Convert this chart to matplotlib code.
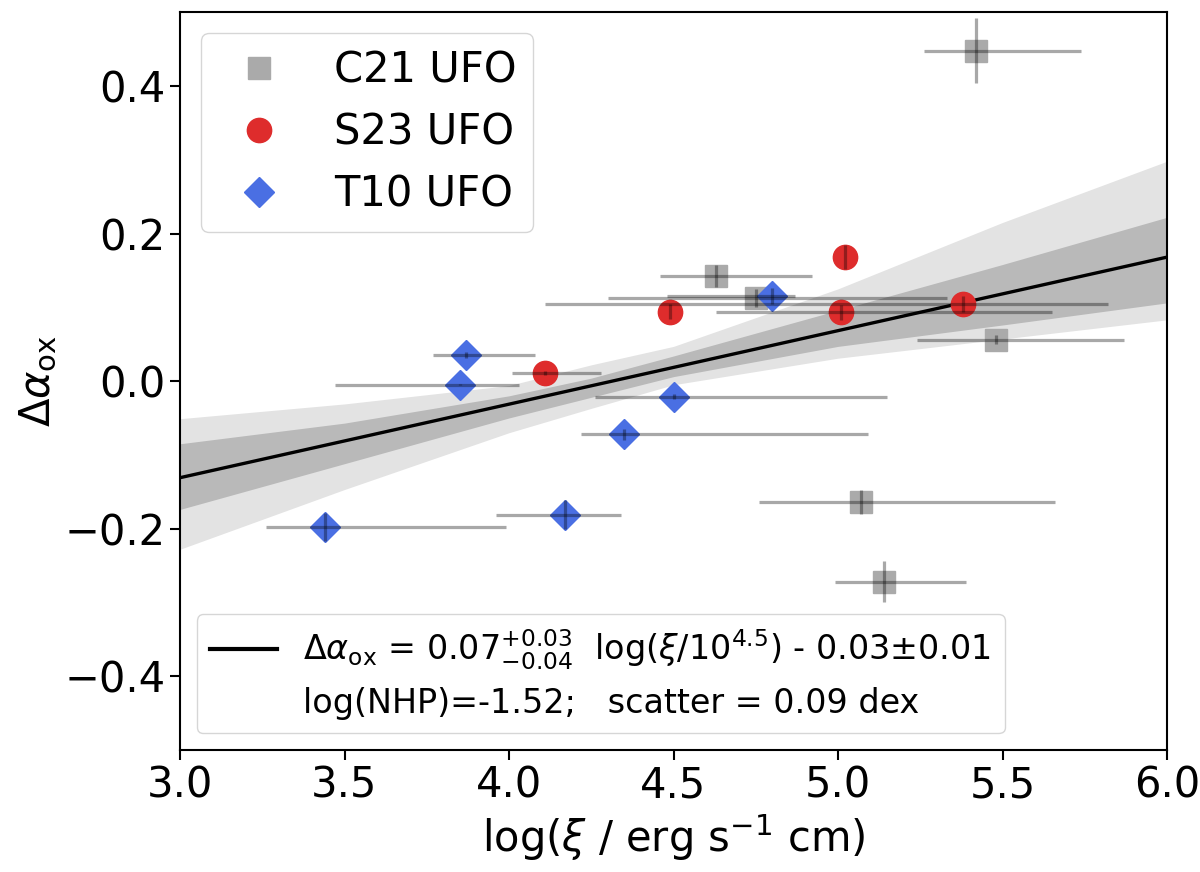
import numpy as np
import matplotlib
matplotlib.use('Agg')
import matplotlib.pyplot as plt
from matplotlib.lines import Line2D

# C21 UFO (grey squares)
c21_x = [5.42, 4.63, 4.75, 5.48, 5.07, 5.14]
c21_y = [0.448, 0.142, 0.113, 0.056, -0.164, -0.272]
c21_xlo = [0.16, 0.17, 0.45, 0.24, 0.31, 0.15]
c21_xhi = [0.32, 0.29, 0.58, 0.39, 0.59, 0.25]
c21_yerr = [0.044, 0.015, 0.012, 0.006, 0.016, 0.028]

# S23 UFO (red circles)
s23_x = [4.11, 4.49, 5.01, 5.02, 5.38]
s23_y = [0.011, 0.094, 0.093, 0.168, 0.104]
s23_xlo = [0.10, 0.0, 0.38, 0.0, 1.27]
s23_xhi = [0.17, 0.0, 0.64, 0.0, 0.44]
s23_yerr = [0.003, 0.010, 0.010, 0.016, 0.011]

# T10 UFO (blue diamonds)
t10_x = [3.44, 3.85, 3.87, 4.17, 4.35, 4.50, 4.80]
t10_y = [-0.198, -0.005, 0.035, -0.181, -0.072, -0.021, 0.115]
t10_xlo = [0.18, 0.38, 0.10, 0.21, 0.13, 0.24, 0.32]
t10_xhi = [0.55, 0.18, 0.21, 0.17, 0.74, 0.65, 0.07]
t10_yerr = [0.019, 0.001, 0.004, 0.020, 0.0075, 0.003, 0.011]

# regression line and confidence bands
fit_x = [3.0, 6.0]
fit_y = [-0.131, 0.168]
band_x = [3.0, 3.5, 4.0, 4.25, 4.5, 5.0, 5.5, 6.0]
dark_hi = [-0.085, -0.057, -0.020, 0.004, 0.034, 0.096, 0.158, 0.222]
dark_lo = [-0.174, -0.112, -0.050, -0.022, 0.006, 0.047, 0.076, 0.106]
light_hi = [-0.051, -0.031, -0.006, 0.022, 0.047, 0.125, 0.215, 0.298]
light_lo = [-0.228, -0.147, -0.070, -0.037, -0.005, 0.031, 0.057, 0.083]

fit_label = r'$\Delta\alpha_{\rm ox}$ = $0.07^{+0.03}_{-0.04}$  log($\xi$/10$^{4.5}$) - 0.03$\pm$0.01'
stat_label = 'log(NHP)=-1.52;   scatter = 0.09 dex'

fig = plt.figure(figsize=(12, 8.72), dpi=100)
ax = fig.add_axes([0.15, 0.14, 0.8225, 0.846])

ax.fill_between(band_x, light_lo, light_hi, color='#e3e3e3', lw=0, zorder=1)
ax.fill_between(band_x, dark_lo, dark_hi, color='#b9b9b9', lw=0, zorder=1.1)
ax.plot(fit_x, fit_y, color='black', lw=2.4, zorder=1.5)

h1, = ax.plot(c21_x, c21_y, 's', ms=15.5, color='#aaaaaa', ls='none', zorder=2, label='C21 UFO')
h2, = ax.plot(s23_x, s23_y, 'o', ms=17.5, color='#de2c2c', ls='none', zorder=2, label='S23 UFO')
h3, = ax.plot(t10_x, t10_y, 'D', ms=15, color='#4a6fe3', ls='none', zorder=2, label='T10 UFO')

for xs, ys, xlo, xhi, ye in [(c21_x, c21_y, c21_xlo, c21_xhi, c21_yerr),
                             (s23_x, s23_y, s23_xlo, s23_xhi, s23_yerr),
                             (t10_x, t10_y, t10_xlo, t10_xhi, t10_yerr)]:
    ax.errorbar(xs, ys, xerr=[xlo, xhi], yerr=ye, fmt='none', ecolor='black',
                alpha=0.34, elinewidth=2.3, capsize=0, zorder=3)

ax.set_xlim(3.0, 6.0)
ax.set_ylim(-0.5, 0.5)
ax.set_xticks([3.0, 3.5, 4.0, 4.5, 5.0, 5.5, 6.0])
ax.set_yticks([-0.4, -0.2, 0.0, 0.2, 0.4])
ax.tick_params(labelsize=30, length=7, width=1.5)
for sp in ax.spines.values():
    sp.set_linewidth(1.5)

ax.set_xlabel(r'log($\xi$ / erg s$^{-1}$ cm)', fontsize=30)
ax.set_ylabel(r'$\Delta\alpha_{\rm ox}$', fontsize=30)

leg1 = ax.legend(handles=[h1, h2, h3], loc='upper left', fontsize=30, labelspacing=0.48)
ax.add_artist(leg1)
fit_handle = Line2D([], [], color='black', lw=3.0)
blank_handle = Line2D([], [], color='none', lw=0)
ax.legend(handles=[fit_handle, blank_handle], labels=[fit_label, stat_label],
          loc='lower left', fontsize=24, handlelength=2.0, labelspacing=0.45)

fig.savefig('out.png', dpi=100)
